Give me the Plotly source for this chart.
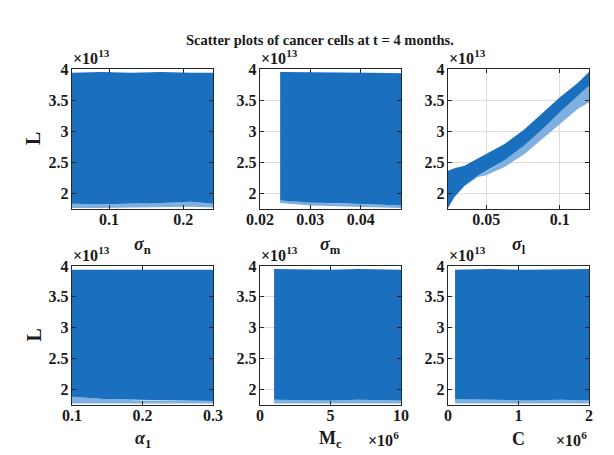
import plotly.graph_objects as go
from plotly.subplots import make_subplots

# L values are in units of 1e13, M_c and C in units of 1e6
sigma_n = [0.05, 0.09, 0.13, 0.17, 0.21, 0.24]
sigma_n_top = [3.94, 3.95, 3.94, 3.95, 3.94, 3.94]
sigma_n_dense = [1.83, 1.82, 1.83, 1.84, 1.86, 1.83]
sigma_n_sparse = [1.76, 1.76, 1.77, 1.77, 1.78, 1.77]

sigma_m = [0.024, 0.03, 0.036, 0.042, 0.048]
sigma_m_top = [3.95, 3.95, 3.94, 3.94, 3.93]
sigma_m_dense = [1.88, 1.85, 1.83, 1.82, 1.80]
sigma_m_sparse = [1.84, 1.80, 1.78, 1.77, 1.76]

sigma_l = [0.024, 0.0284, 0.0352, 0.0443, 0.05, 0.0625, 0.0761, 0.0898, 0.1, 0.1125, 0.12]
sigma_l_top = [2.36, 2.40, 2.44, 2.56, 2.63, 2.79, 3.03, 3.33, 3.54, 3.78, 3.95]
sigma_l_dense = [1.76, 1.94, 2.12, 2.28, 2.35, 2.53, 2.77, 3.06, 3.30, 3.57, 3.73]
sigma_l_sparse = [1.76, 1.94, 2.11, 2.26, 2.29, 2.42, 2.63, 2.90, 3.11, 3.36, 3.46]

alpha_1 = [0.1, 0.15, 0.2, 0.25, 0.3]
alpha_1_top = [3.94, 3.94, 3.95, 3.94, 3.94]
alpha_1_dense = [1.88, 1.84, 1.82, 1.82, 1.81]
alpha_1_sparse = [1.77, 1.77, 1.76, 1.77, 1.77]

M_c = [1, 3, 5, 7, 10]
M_c_top = [3.95, 3.94, 3.94, 3.95, 3.94]
M_c_dense = [1.83, 1.82, 1.82, 1.83, 1.82]
M_c_sparse = [1.77, 1.77, 1.76, 1.77, 1.77]

C = [0.1, 0.6, 1.1, 1.6, 2.0]
C_top = [3.94, 3.95, 3.94, 3.94, 3.95]
C_dense = [1.84, 1.83, 1.82, 1.83, 1.82]
C_sparse = [1.77, 1.77, 1.76, 1.77, 1.77]

x_ticks = [[0.1, 0.2], [0.02, 0.03, 0.04], [0.05, 0.1],
           [0.1, 0.2, 0.3], [0, 5, 10], [0, 1, 2]]
y_ticks = [2, 2.5, 3, 3.5, 4]

x_labels = ['<i>σ</i><sub>n</sub>', '<i>σ</i><sub>m</sub>', '<i>σ</i><sub>l</sub>',
            '<i>α</i><sub>1</sub>', 'M<sub>c</sub>', 'C']

panels = [
    (sigma_n, sigma_n_top, sigma_n_dense, sigma_n_sparse),
    (sigma_m, sigma_m_top, sigma_m_dense, sigma_m_sparse),
    (sigma_l, sigma_l_top, sigma_l_dense, sigma_l_sparse),
    (alpha_1, alpha_1_top, alpha_1_dense, alpha_1_sparse),
    (M_c, M_c_top, M_c_dense, M_c_sparse),
    (C, C_top, C_dense, C_sparse),
]
x_ranges = [[0.05, 0.24], [0.02, 0.048], [0.024, 0.12], [0.1, 0.3], [0, 10], [0, 2]]

BLUE = '#1a70bf'
FRINGE = '#7fb0e0'
AX = '#262626'
FONT = 'Liberation Serif'
W, H = 614, 455
OFF = 8  # the page body adds an 8px margin around the figure


def px(x):
    return (x - OFF) / W


def py(y):
    return 1 - (y - OFF) / H


fig = make_subplots(rows=2, cols=3)

for i, (xs, top, dense, sparse) in enumerate(panels):
    r, c = i // 3 + 1, i % 3 + 1
    # sparse lower fringe of the point cloud
    fig.add_trace(go.Scatter(x=xs + xs[::-1], y=dense + sparse[::-1], fill='toself',
                             fillcolor=FRINGE, mode='lines', line=dict(width=0),
                             hoverinfo='skip', showlegend=False), row=r, col=c)
    # dense body of the point cloud
    fig.add_trace(go.Scatter(x=xs + xs[::-1], y=top + dense[::-1], fill='toself',
                             fillcolor=BLUE, mode='lines', line=dict(width=0),
                             hoverinfo='skip', showlegend=False), row=r, col=c)

col_px = [(72, 213), (260, 401), (448, 589)]
row_px = [(69, 209), (266, 405)]

for i in range(6):
    r, c = i // 3, i % 3
    x0, x1 = col_px[c]
    y0, y1 = row_px[r]
    axis_style = dict(showline=True, linecolor=AX, linewidth=1.4, mirror='ticks',
                      ticks='inside', ticklen=4, tickcolor=AX, showgrid=True,
                      gridcolor='#dcdcdc', zeroline=False, automargin=False,
                      tickfont=dict(family=FONT, size=16, color='#1a1a1a'))
    fig.update_xaxes(domain=[px(x0), px(x1)], range=x_ranges[i], tickvals=x_ticks[i],
                     ticktext=[f'<b>{v:g}</b>' for v in x_ticks[i]], ticklabelstandoff=-4,
                     row=r + 1, col=c + 1, **axis_style)
    fig.update_yaxes(domain=[py(y1), py(y0)], range=[1.745, 4.0], tickvals=y_ticks,
                     ticktext=[f'<b>{v:g}</b>' for v in y_ticks], ticklabelstandoff=-1,
                     row=r + 1, col=c + 1, **axis_style)

ann = []
font = dict(family=FONT, color='#1a1a1a')
ann.append(dict(x=px(320), y=py(40), text='<b>Scatter plots of cancer cells at t = 4 months.</b>',
                font=dict(size=14.5, **font)))
for r in range(2):
    ann.append(dict(x=px(33), y=py(sum(row_px[r]) / 2), text='<b>L</b>', textangle=-90,
                    font=dict(size=20, **font)))
    for c in range(3):
        ann.append(dict(x=px(col_px[c][0] + 19), y=py(row_px[r][0] - 12),
                        text='<b>×10<sup>13</sup></b>', font=dict(size=16, **font)))
for i, lab in enumerate(x_labels):
    r, c = i // 3, i % 3
    ann.append(dict(x=px(sum(col_px[c]) / 2), y=py(245 if r == 0 else 439), text=f'<b>{lab}</b>',
                    font=dict(size=18, **font)))
for c in (1, 2):
    ann.append(dict(x=px(col_px[c][1] - 18), y=py(439),
                    text='<b>×10<sup>6</sup></b>', font=dict(size=16, **font)))
for a in ann:
    a.update(xref='paper', yref='paper', showarrow=False, xanchor='center', yanchor='middle')

fig.update_layout(width=W, height=H, margin=dict(l=0, r=0, t=0, b=0),
                  plot_bgcolor='white', paper_bgcolor='white', annotations=ann,
                  font=dict(family=FONT))

fig.write_html('out.html')
